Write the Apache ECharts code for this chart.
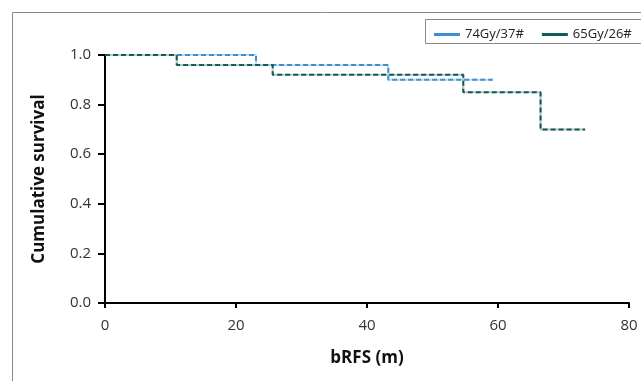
<!DOCTYPE html>
<html>
<head>
<meta charset="utf-8">
<script src="https://cdn.jsdelivr.net/npm/echarts@6/dist/echarts.min.js"></script>
<style>
  html, body { margin: 0; padding: 0; background: #fff; }
  #chart { width: 641px; height: 381px; }
</style>
</head>
<body>
<div id="chart"></div>
<script>
// step curves: [month, survival]
const names = ["74Gy/37#", "65Gy/26#"];
const colors = ["#3d8fd3", "#0e5b57"];
const gapColors = ["#c3dbef", "#b9c7c6"];
const curve74 = [[0, 1.0], [23.05, 0.96], [43.25, 0.90], [59.2, 0.90]];
const curve65 = [[0, 1.0], [10.95, 0.96], [25.6, 0.92], [54.7, 0.85], [66.5, 0.70], [73.3, 0.70]];
const curves = [curve74, curve65];
const xTicks = [0, 20, 40, 60, 80];
const yTicks = [0, 0.2, 0.4, 0.6, 0.8, 1.0];

const font = "'Open Sans', 'Noto Sans', sans-serif";

let series = [];
curves.forEach((c, i) => {
  // light underlay so the gaps of the dashes look tinted
  series.push({
    name: names[i] + "_bg",
    type: "line",
    step: "end",
    data: c,
    symbol: "none",
    lineStyle: { color: gapColors[i], width: 2 },
    z: 2,
    silent: true,
  });
  series.push({
    name: names[i],
    type: "line",
    step: "end",
    data: c,
    symbol: "none",
    itemStyle: { color: colors[i] },
    lineStyle: { color: colors[i], width: 2, type: [5, 3] },
    z: 3,
  });
});

const chart = echarts.init(document.getElementById("chart"));
chart.setOption({
  animation: false,
  backgroundColor: "#fff",
  graphic: [
    {
      type: "rect",
      left: 10, top: 10,
      shape: { width: 700, height: 500 },
      style: { fill: "none", stroke: "#8a8a8a", lineWidth: 1 },
      z: 0,
    },
    {
      type: "rect",
      left: 425, top: 19,
      shape: { width: 300, height: 24 },
      style: { fill: "#fff", stroke: "#8a8a8a", lineWidth: 1 },
      z: 1,
    },
  ],
  legend: {
    data: names,
    left: 429,
    top: 23,
    itemWidth: 26,
    itemHeight: 3,
    itemGap: 18,
    icon: "rect",
    textStyle: { fontFamily: font, fontSize: 13, color: "#222" },
    z: 5,
  },
  grid: { left: 105, right: 12, top: 55, bottom: 78 },
  xAxis: {
    type: "value",
    min: 0,
    max: 80,
    interval: 20,
    name: "bRFS (m)",
    nameLocation: "middle",
    nameGap: 47,
    nameTextStyle: { fontFamily: font, fontSize: 17, fontWeight: "bold", color: "#111" },
    axisLine: { lineStyle: { color: "#000", width: 2 } },
    axisTick: { show: true, length: 5, lineStyle: { color: "#000", width: 2 } },
    axisLabel: {
      fontFamily: font, fontSize: 15, color: "#333", margin: 15,
      formatter: (v) => (xTicks.includes(v) ? String(v) : ""),
    },
    splitLine: { show: false },
  },
  yAxis: {
    type: "value",
    min: 0,
    max: 1,
    interval: 0.2,
    name: "Cumulative survival",
    nameLocation: "middle",
    nameGap: 57,
    nameTextStyle: { fontFamily: font, fontSize: 17, fontWeight: "bold", color: "#111" },
    axisLine: { show: true, lineStyle: { color: "#000", width: 2 } },
    axisTick: { show: true, length: 7, lineStyle: { color: "#000", width: 2 } },
    axisLabel: {
      fontFamily: font, fontSize: 15, color: "#333", margin: 14,
      formatter: (v) => {
        const t = yTicks.find((y) => Math.abs(y - v) < 1e-6);
        return t === undefined ? "" : t.toFixed(1);
      },
    },
    splitLine: { show: false },
  },
  series: series,
});
</script>
</body>
</html>
